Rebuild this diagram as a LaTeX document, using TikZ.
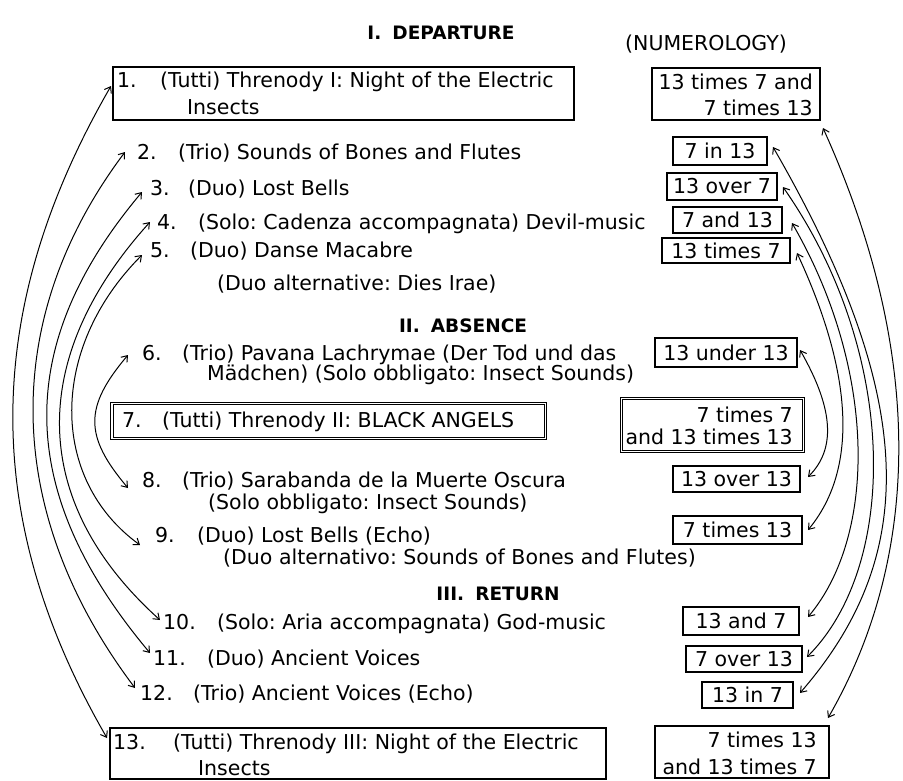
\documentclass[tikz,border=0pt]{standalone}
\usepackage{fontspec}
\setmainfont{DejaVu Sans}
\usetikzlibrary{arrows.meta}
\newcommand\mkn[2]{\makebox[#1pt][l]{#2}}
\frenchspacing
\begin{document}
\begin{tikzpicture}[x=1pt,y=-1pt,
  txt/.style={inner sep=0pt, anchor=base west, font=\fontsize{20.5}{24}\selectfont},
  txtr/.style={inner sep=0pt, anchor=base east, font=\fontsize{20.5}{24}\selectfont},
  head/.style={inner sep=0pt, anchor=base, font=\fontsize{18.5}{22}\selectfont\bfseries},
  box/.style={draw, line width=1.1pt, inner sep=0pt},
  nbox/.style={draw, line width=1.1pt, inner sep=0pt, font=\fontsize{20.5}{24}\selectfont},
  dbox/.style={draw, double, double distance=1.6pt, line width=0.9pt, inner sep=0pt},
  arc/.style={line width=1pt, {Straight Barb[length=5.5pt,width=8pt]}-{Straight Barb[length=5.5pt,width=8pt]}},
]
\useasboundingbox (0,0) rectangle (903,780);
\fill[white] (0,0) rectangle (903,780);

% headings
\node[head] (h1) at (441,39) {I.\hspace{0.6em}DEPARTURE};
\node[head] (h2) at (463,332) {II.\hspace{0.6em}ABSENCE};
\node[head] (h3) at (498,600) {III.\hspace{0.6em}RETURN};
\node[txt, anchor=base] (numer) at (706,50) {(NUMEROLOGY)};

% left boxes
\node[box, minimum width=461pt, minimum height=53pt] (b1) at (343.5,93.5) {};
\node[dbox, minimum width=433.5pt, minimum height=35pt] (b7) at (328.75,421) {};
\node[box, minimum width=496pt, minimum height=51pt] (b13) at (358,753.5) {};

% items
\node[txt] (t1) at (117,87) {\mkn{43}{1.}(Tutti) Threnody I: Night of the Electric};
\node[txt] (t1b) at (187,114) {Insects};
\node[txt] (t2) at (137,159) {\mkn{41}{2.}(Trio) Sounds of Bones and Flutes};
\node[txt] (t3) at (150,195) {\mkn{38}{3.}(Duo) Lost Bells};
\node[txt] (t4) at (157,229) {\mkn{41}{4.}(Solo: Cadenza accompagnata) Devil-music};
\node[txt] (t5) at (150,257) {\mkn{40}{5.}(Duo) Danse Macabre};
\node[txt] (t5b) at (217,290) {(Duo alternative: Dies Irae)};
\node[txt] (t6) at (142,360) {\mkn{40}{6.}(Trio) Pavana Lachrymae (Der Tod und das};
\node[txt] (t6b) at (207,380) {Mädchen) (Solo obbligato: Insect Sounds)};
\node[txt] (t7) at (122,427) {\mkn{40}{7.}(Tutti) Threnody II: BLACK ANGELS};
\node[txt] (t8) at (142,487) {\mkn{40}{8.}(Trio) Sarabanda de la Muerte Oscura};
\node[txt] (t8b) at (208,509) {(Solo obbligato: Insect Sounds)};
\node[txt] (t9) at (155,542) {\mkn{42}{9.}(Duo) Lost Bells (Echo)};
\node[txt] (t9b) at (223,564) {(Duo alternativo: Sounds of Bones and Flutes)};
\node[txt] (t10) at (163,629) {\mkn{54}{10.}(Solo: Aria accompagnata) God-music};
\node[txt] (t11) at (153,665) {\mkn{54}{11.}(Duo) Ancient Voices};
\node[txt] (t12) at (140,700) {\mkn{53}{12.}(Trio) Ancient Voices (Echo)};
\node[txt] (t13) at (113,749) {\mkn{60}{13.}(Tutti) Threnody III: Night of the Electric};
\node[txt] (t13b) at (198,775) {Insects};

% numerology boxes
\node[nbox, minimum width=168pt, minimum height=52pt] (n1) at (736,94) {};
\node[txtr] (n1a) at (813,89) {13 times 7 and};
\node[txtr] (n1b) at (813,115) {7 times 13};
\node[nbox, minimum width=94pt, minimum height=28pt] (n2) at (720,151) {7 in 13};
\node[nbox, minimum width=110pt, minimum height=27pt] (n3) at (722,186.5) {13 over 7};
\node[nbox, minimum width=109pt, minimum height=26pt] (n4) at (727.5,220) {7 and 13};
\node[nbox, minimum width=128pt, minimum height=25pt] (n5) at (726,250.5) {13 times 7};
\node[nbox, minimum width=142pt, minimum height=29pt] (n6) at (726,352.5) {13 under 13};
\node[dbox, minimum width=181.8pt, minimum height=52.8pt] (n7) at (712.5,425) {};
\node[txtr] (n7a) at (793,422) {7 times 7};
\node[txtr] (n7b) at (793,444) {and 13 times 13};
\node[nbox, minimum width=127pt, minimum height=26pt] (n8) at (736.5,479) {13 over 13};
\node[nbox, minimum width=129pt, minimum height=28pt] (n9) at (737.5,530) {7 times 13};
\node[nbox, minimum width=116pt, minimum height=28pt] (n10) at (741,621) {13 and 7};
\node[nbox, minimum width=116pt, minimum height=26pt] (n11) at (744,659) {7 over 13};
\node[nbox, minimum width=91pt, minimum height=26pt] (n12) at (747.5,695) {13 in 7};
\node[nbox, minimum width=174pt, minimum height=52pt] (n13) at (742,752) {};
\node[txtr] (n13a) at (817,747) {7 times 13};
\node[txtr] (n13b) at (817,774) {and 13 times 7};

% left arcs
\coordinate (L1a) at (111,86);  \coordinate (L1b) at (107,738);
\coordinate (L2a) at (125,152); \coordinate (L2b) at (135,688);
\coordinate (L3a) at (142,192); \coordinate (L3b) at (150,653);
\coordinate (L4a) at (150,222); \coordinate (L4b) at (160,620);
\coordinate (L5a) at (142,255); \coordinate (L5b) at (140,545);
\coordinate (L6a) at (128,355); \coordinate (L6b) at (128,488);
\draw[arc] (L1a) .. controls (-19,311) and (-19,520) .. (L1b);
\draw[arc] (L2a) .. controls (1,317) and (1,510) .. (L2b);
\draw[arc] (L3a) .. controls (14,344) and (14,491) .. (L3b);
\draw[arc] (L4a) .. controls (28,357) and (28,501) .. (L4b);
\draw[arc] (L5a) .. controls (49,348) and (49,479) .. (L5b);
\draw[arc] (L6a) .. controls (84,407) and (84,436) .. (L6b);

% right arcs
\coordinate (R1a) at (823,128); \coordinate (R1b) at (828,718);
\coordinate (R2a) at (773,147); \coordinate (R2b) at (800,693);
\coordinate (R3a) at (783,187); \coordinate (R3b) at (807,657);
\coordinate (R4a) at (792,223); \coordinate (R4b) at (808,617);
\coordinate (R5a) at (797,253); \coordinate (R5b) at (808,530);
\coordinate (R6a) at (800,350); \coordinate (R6b) at (808,477);
\draw[arc] (R1a) .. controls (923,349) and (923,553) .. (R1b);
\draw[arc] (R2a) .. controls (919,400) and (919,556) .. (R2b);
\draw[arc] (R3a) .. controls (899,353) and (899,565) .. (R3b);
\draw[arc] (R4a) .. controls (877,370) and (877,535) .. (R4b);
\draw[arc] (R5a) .. controls (856,380) and (856,472) .. (R5b);
\draw[arc] (R6a) .. controls (835,411) and (835,450) .. (R6b);
\end{tikzpicture}
\end{document}
